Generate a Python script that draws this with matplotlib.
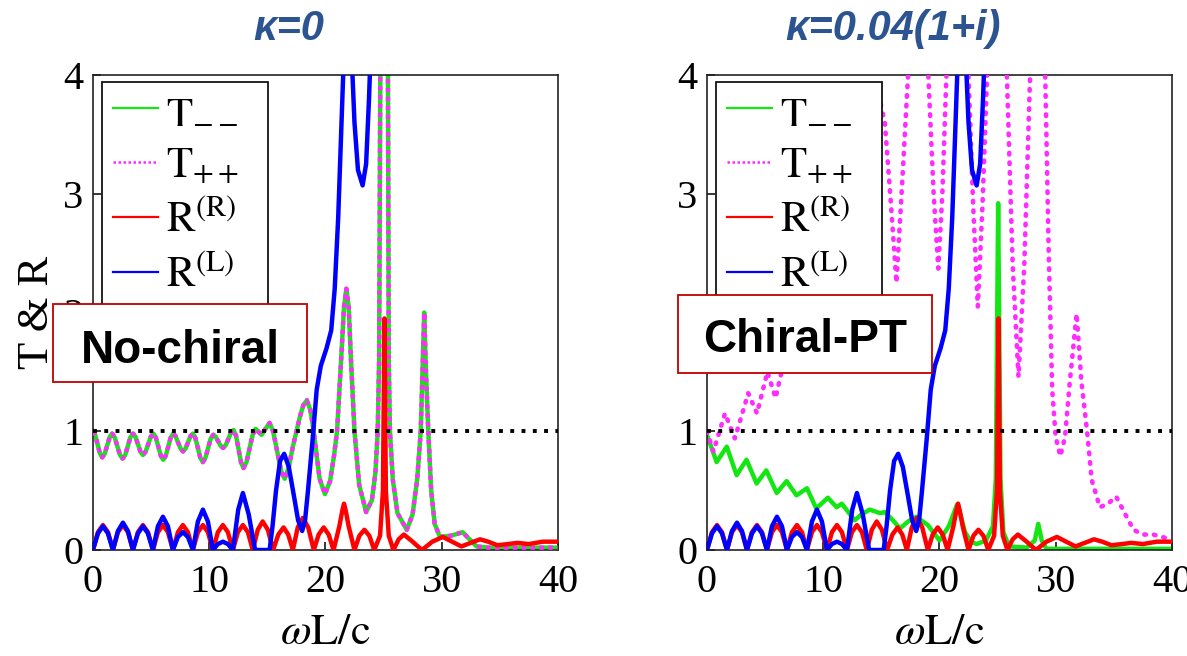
import matplotlib.pyplot as plt
from matplotlib.lines import Line2D
from matplotlib.patches import Rectangle

plt.rcParams['font.family'] = 'Liberation Serif'
plt.rcParams['mathtext.fontset'] = 'stix'

# --- spectra (x = omega L / c) ---

# kappa = 0 : T-- and T++ coincide
T0_x = [0, 0.2, 0.6, 0.8, 1.01, 1.44, 1.65, 1.875, 2.325, 2.55, 2.775, 3.225, 3.45, 3.66, 4.09,
        4.3, 4.525, 4.975, 5.2, 5.41, 5.84, 6.05, 6.26, 6.69, 6.9, 7.11, 7.54, 7.75, 7.96,
        8.39, 8.6, 8.81, 9.24, 9.45, 9.675, 10.125, 10.35, 10.56, 10.99, 11.2, 11.425,
        11.875, 12.1, 12.31, 12.74, 12.95, 13.21, 13.74, 14.0, 14.25, 14.5, 14.85, 15.2,
        15.5, 15.85, 16.2, 16.5, 16.85, 17.2, 17.8, 18.1, 18.4, 18.7, 18.95, 19.5, 19.96,
        20.4, 20.75, 21.0, 21.35, 21.6, 21.8, 22.0, 22.2, 22.5, 22.9, 23.5, 24.0, 24.3,
        24.5, 24.62, 24.72, 25.05, 25.38, 25.45, 25.55, 25.8, 26.2, 27.0, 27.5, 27.9,
        28.2, 28.35, 28.5, 28.65, 28.85, 29.1, 29.4, 29.85, 30.8, 31.8, 32.3, 33.0,
        34.0, 40]
T0_y = [1.0, 0.967, 0.813, 0.78, 0.81, 0.95, 0.98, 0.948, 0.8, 0.77, 0.8, 0.95, 0.98, 0.953, 0.827,
        0.8, 0.827, 0.953, 0.98, 0.947, 0.793, 0.76, 0.793, 0.947, 0.98, 0.958, 0.853, 0.83, 0.853,
        0.958, 0.98, 0.944, 0.776, 0.74, 0.775, 0.936, 0.97, 0.954, 0.877, 0.86, 0.883,
        0.988, 1.01, 0.962, 0.738, 0.69, 0.74, 0.97, 1.02, 0.995, 0.97, 1.02, 1.07,
        1.0, 0.83, 0.66, 0.6, 0.7, 0.87, 1.12, 1.22, 1.26, 1.18, 1.03, 0.6, 0.47,
        0.58, 0.8, 1.0, 1.6, 2.05, 2.2, 2.05, 1.6, 1.0, 0.55, 0.32, 0.42, 0.65,
        1.0, 1.6, 4.0, 8.0, 4.0, 1.6, 1.0, 0.59, 0.31, 0.17, 0.3, 0.6,
        1.0, 1.5, 2.0, 1.5, 1.0, 0.5, 0.22, 0.11, 0.12, 0.15, 0.1, 0.03,
        0.02, 0.02]

# reflection R(R), same in both cases
RR_x = [0, 0.43, 0.86, 1.29, 1.72, 2.15, 2.58, 3.01, 3.44, 3.87, 4.3, 4.73, 5.16, 5.59, 6.02,
        6.45, 6.88, 7.31, 7.74, 8.17, 8.6, 9.03, 9.46, 9.89, 10.32, 10.75, 11.18, 11.61,
        12.04, 12.47, 12.9, 13.33, 13.75, 14.18, 14.6, 15.05, 15.5, 15.95, 16.4, 16.8, 17.2,
        17.62, 18.05, 18.52, 19.0, 19.42, 19.85, 20.28, 20.7, 21.2, 21.45, 21.6, 21.75, 22.0,
        22.5, 22.92, 23.35, 23.78, 24.2, 24.7, 24.95, 25.08, 25.2, 25.45, 25.85, 26.3,
        26.75, 27.5, 28.3, 29.2, 30.1, 30.9, 31.7, 32.5, 33.3, 34.0, 34.8, 35.7, 36.5,
        37.5, 38.7, 40]
RR_y = [0, 0.15, 0.21, 0.15, 0, 0.15, 0.21, 0.15, 0, 0.15, 0.21, 0.15, 0, 0.15, 0.21,
        0.15, 0, 0.15, 0.21, 0.15, 0, 0.15, 0.21, 0.15, 0, 0.15, 0.21, 0.15,
        0, 0.15, 0.21, 0.15, 0, 0.17, 0.24, 0.17, 0, 0.13, 0.19, 0.13, 0,
        0.19, 0.27, 0.19, 0, 0.13, 0.19, 0.13, 0, 0.2, 0.33, 0.39, 0.33, 0.2,
        0, 0.12, 0.17, 0.12, 0, 0.12, 0.5, 1.95, 0.5, 0.12, 0, 0.09,
        0.13, 0.07, 0, 0.07, 0.11, 0.07, 0.03, 0.06, 0.09, 0.07, 0.04, 0.05, 0.06,
        0.05, 0.07, 0.07]

# reflection R(L), same in both cases (runs off the top after ~24)
RL_x = [0, 0.43, 0.86, 1.29, 1.72, 2.15, 2.58, 3.01, 3.44, 3.87, 4.3, 4.73, 5.16, 5.59, 6.02,
        6.45, 6.88, 7.31, 7.74, 8.17, 8.6, 9.03, 9.46, 9.89, 10.32, 10.75, 11.18, 11.61,
        12.04, 12.5, 12.9, 13.4, 13.95, 15.2, 15.45, 15.75, 16.1, 16.45, 16.85, 17.3, 17.65,
        18.0, 18.25, 18.5, 18.9, 19.25, 19.6, 20.1, 20.5, 20.8, 21.1, 21.35, 21.6, 21.9,
        22.2, 22.5, 22.8, 23.2, 23.5, 23.75, 24.0, 24.3]
RL_y = [0, 0.14, 0.2, 0.14, 0, 0.16, 0.23, 0.16, 0, 0.14, 0.2, 0.14, 0, 0.2, 0.28,
        0.2, 0, 0.11, 0.15, 0.11, 0, 0.24, 0.34, 0.24, 0, 0.05, 0.07, 0.05,
        0, 0.34, 0.48, 0.3, 0, 0, 0.2, 0.5, 0.75, 0.81, 0.7, 0.45, 0.25,
        0.16, 0.25, 0.5, 0.93, 1.35, 1.55, 1.7, 1.85, 2.2, 2.8, 3.5, 4.2, 4.6,
        4.3, 3.6, 3.2, 3.07, 3.25, 3.8, 4.5, 6.0]

# kappa = 0.04(1+i) : T-- and T++ split
Tmm_x = [0, 0.83, 1.7, 2.55, 3.4, 4.27, 5.1, 6.0, 6.85, 7.7, 8.6, 9.4, 10.4, 11.15, 11.6,
         12.7, 13.3, 14.0, 14.9, 15.3, 16.0, 16.6, 17.3, 18.0, 19.0, 20.0, 20.8, 21.2, 21.5,
         21.8, 22.2, 22.7, 23.2, 24.0, 24.6, 24.85, 24.95, 25.05, 25.15, 25.25, 25.5, 26.0,
         27.5, 28.2, 28.5, 28.8, 29.2, 40]
Tmm_y = [0.97, 0.74, 0.87, 0.63, 0.76, 0.56, 0.67, 0.48, 0.58, 0.46, 0.52, 0.35, 0.44, 0.36, 0.39,
         0.25, 0.3, 0.34, 0.31, 0.32, 0.25, 0.18, 0.24, 0.28, 0.21, 0.08, 0.2, 0.3, 0.38,
         0.3, 0.15, 0.07, 0.05, 0.08, 0.2, 0.6, 1.8, 2.92, 1.8, 0.6, 0.15, 0.03,
         0.02, 0.08, 0.22, 0.08, 0.01, 0.01]

Tpp_x = [0, 0.55, 1.55, 2.4, 3.55, 4.3, 5.2, 5.9, 7.0, 7.7, 8.8, 9.5, 10.6, 11.3, 12.5,
         13.2, 14.6, 15.3, 15.8, 16.3, 16.8, 17.3, 18.2, 19.04, 19.5, 19.9, 20.25, 20.6,
         21.5, 22.5, 22.9, 23.3, 23.7, 24.1, 25.0, 25.8, 26.3, 26.8, 27.3, 27.8, 28.4,
         29.1, 29.4, 29.7, 30.0, 30.4, 30.8, 31.2, 31.8, 32.2, 32.7, 33.1, 33.8, 34.5,
         35.2, 36.1, 36.7, 37.5, 38.4, 39.5, 40]
Tpp_y = [1.0, 0.83, 1.15, 0.94, 1.32, 1.15, 1.5, 1.28, 1.75, 1.5, 2.05, 1.75, 2.4, 2.05, 2.9,
         2.45, 3.9, 3.6, 2.95, 2.25, 3.1, 4.0, 5.5, 4.0, 3.0, 2.37, 3.0, 4.0,
         5.5, 4.0, 2.9, 2.05, 2.9, 4.0, 5.5, 4.0, 2.4, 1.46, 2.4, 4.0, 5.5,
         4.0, 2.5, 1.35, 0.95, 0.79, 0.95, 1.4, 1.99, 1.43, 1.0, 0.59, 0.36, 0.39,
         0.45, 0.28, 0.17, 0.13, 0.13, 0.1, 0.08]

titles = ['\u03ba=0', '\u03ba=0.04(1+i)']
box_texts = ['No-chiral', 'Chiral-PT']
labels = [r'$\mathrm{T}_{--}$', r'$\mathrm{T}_{++}$',
          r'$\mathrm{R}^{(\mathrm{R})}$', r'$\mathrm{R}^{(\mathrm{L})}$']

GREEN = '#14e614'
MAGENTA = '#ff2bff'
RED = '#ff0000'
BLUE = '#0000ff'
LW = 3.2

fig = plt.figure(figsize=(11.87, 6.56), dpi=100)
ax1 = fig.add_axes([0.0783, 0.1616, 0.3917, 0.7241])
ax2 = fig.add_axes([0.5956, 0.1616, 0.3917, 0.7241])


def setup_axes(ax):
    ax.set_xlim(0, 40)
    ax.set_ylim(0, 4)
    ax.set_xticks([0, 10, 20, 30, 40])
    ax.set_yticks([0, 1, 2, 3, 4])
    ax.tick_params(direction='in', length=6, width=1.1, labelsize=29,
                   top=False, right=False)
    ax.tick_params(axis='x', pad=10)
    ax.tick_params(axis='y', pad=7)
    for s in ax.spines.values():
        s.set_linewidth(1.2)
        s.set_color('#222222')
    ax.set_xlabel(r'$\omega\mathrm{L/c}$', fontsize=32, labelpad=9)
    ax.axhline(1, color='black', lw=2.8, linestyle=(0, (1, 1.9)), zorder=6)


def add_legend(ax):
    handles = [Line2D([], [], color=GREEN, lw=1.6),
               Line2D([], [], color=MAGENTA, lw=1.8, linestyle=(0, (1, 1))),
               Line2D([], [], color=RED, lw=1.6),
               Line2D([], [], color=BLUE, lw=1.6)]
    leg = ax.legend(handles, labels, loc='upper left', mode='expand',
                    bbox_to_anchor=(0.019, 0.4, 0.357, 0.585), borderaxespad=0,
                    fontsize=31, handlelength=1.05, handletextpad=0.2,
                    labelspacing=0.34, borderpad=0.25, fancybox=False,
                    framealpha=1, edgecolor='black')
    leg.get_frame().set_linewidth(1.2)
    leg.set_zorder(10)


# left panel
setup_axes(ax1)
ax1.plot(T0_x, T0_y, color=GREEN, lw=LW, solid_joinstyle='round', zorder=2)
ax1.plot(T0_x, T0_y, color=MAGENTA, lw=LW, linestyle=(0, (1, 1)), zorder=3)
ax1.plot(RR_x, RR_y, color=RED, lw=LW, solid_joinstyle='round', zorder=4)
ax1.plot(RL_x, RL_y, color=BLUE, lw=LW, solid_joinstyle='round', zorder=5)
ax1.set_ylabel('T & R', fontsize=32, labelpad=4)
add_legend(ax1)

# right panel
setup_axes(ax2)
ax2.plot(Tmm_x, Tmm_y, color=GREEN, lw=LW, solid_joinstyle='round', zorder=2)
ax2.plot(Tpp_x, Tpp_y, color=MAGENTA, lw=3.3, linestyle=(0, (0.35, 1.75)),
         dash_capstyle='round', zorder=3)
ax2.plot(RR_x, RR_y, color=RED, lw=LW, solid_joinstyle='round', zorder=4)
ax2.plot(RL_x, RL_y, color=BLUE, lw=LW, solid_joinstyle='round', zorder=5)
add_legend(ax2)

# panel titles
for xc, t in zip([0.243, 0.752], titles):
    fig.text(xc, 0.956, t, ha='center', va='center', fontsize=30,
             fontweight='bold', fontstyle='italic', color='#2b5490',
             family='Liberation Sans')

# labelled boxes on top of the axes
boxes = [(0.0447, 0.4177, 0.4466), (0.5712, 0.4314, 0.4634)]
for (x0, y0, yb), t in zip(boxes, box_texts):
    fig.patches.append(Rectangle((x0, y0), 0.214, 0.119, transform=fig.transFigure,
                                 facecolor='white', edgecolor='#c00000', lw=1.3,
                                 zorder=20))
    fig.text(x0 + 0.107, yb, t, ha='center', va='baseline', fontsize=33,
             fontweight='bold', family='Liberation Sans', zorder=21)

fig.savefig('out.png', dpi=100)
